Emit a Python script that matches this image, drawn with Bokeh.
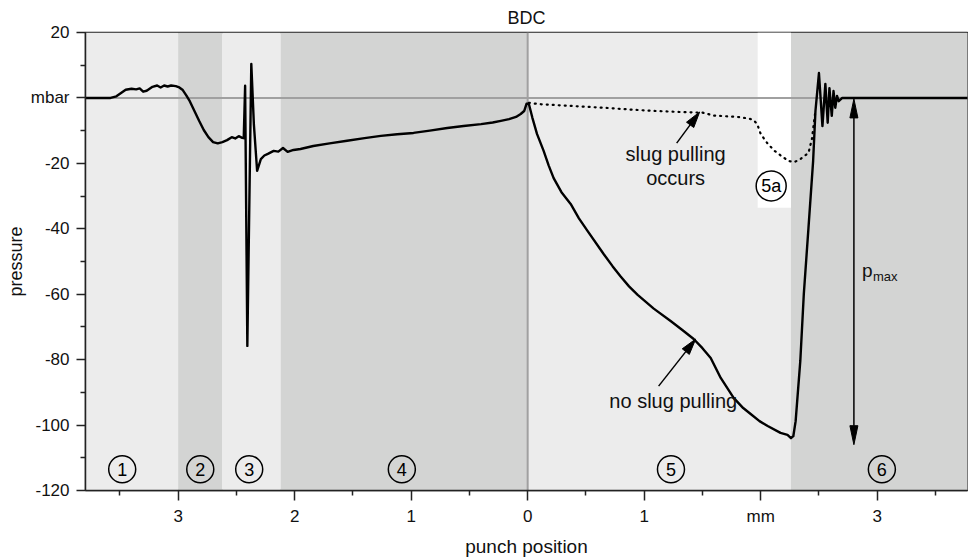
import math
from bokeh.plotting import figure
from bokeh.models import Range1d, FixedTicker
from bokeh.core.properties import value
from bokeh.embed import file_html
from bokeh.resources import INLINE

FONT = "Liberation Sans"

# ---------------- data ----------------
band_left = [-3.8, -3.0, -2.62, -2.12, 0.0, 2.26]
band_right = [-3.0, -2.62, -2.12, 0.0, 2.26, 3.8]
band_color = ["#ececec", "#d3d4d3", "#ececec", "#d3d4d3", "#ececec", "#d3d4d3"]

# white box behind label 5a
box_left, box_right, box_bottom, box_top = 1.974, 2.26, -33.6, 20

# "no slug pulling" curve
solid_x = [-3.80, -3.58, -3.53, -3.49, -3.45, -3.40, -3.36, -3.33, -3.30, -3.27, -3.22,
           -3.18, -3.15, -3.12, -3.09, -3.06, -3.02, -2.99, -2.96, -2.93, -2.90, -2.86,
           -2.82, -2.78, -2.74, -2.70, -2.66, -2.62, -2.58, -2.54, -2.51, -2.48, -2.45,
           -2.437, -2.425, -2.406, -2.372, -2.350, -2.322, -2.29, -2.26, -2.23, -2.18,
           -2.14, -2.10, -2.06, -2.01, -1.95, -1.84, -1.70, -1.55, -1.40, -1.26, -1.12,
           -0.98, -0.84, -0.69, -0.55, -0.40, -0.30, -0.23, -0.16, -0.10, -0.06, -0.03,
           -0.01, 0.01, 0.04, 0.08, 0.137, 0.18, 0.223, 0.29, 0.369, 0.44, 0.515, 0.652,
           0.73, 0.798, 0.87, 0.944, 1.082, 1.227, 1.33, 1.425, 1.50, 1.571, 1.657, 1.768,
           1.85, 1.914, 1.99, 2.06, 2.17, 2.23, 2.26, 2.28, 2.30, 2.34, 2.37, 2.41, 2.45,
           2.47, 2.50, 2.53, 2.555, 2.575, 2.59, 2.61, 2.625, 2.64, 2.655, 2.67, 2.70, 3.80]
solid_y = [0.0, 0.0, 0.5, 1.5, 2.5, 2.8, 2.6, 2.9, 1.9, 2.2, 3.4,
           3.8, 3.2, 3.8, 3.5, 3.8, 3.6, 3.2, 2.4, 0.8, -1.0, -4.0,
           -7.0, -9.8, -12.0, -13.5, -13.9, -13.5, -12.9, -12.0, -12.4, -11.7, -12.2,
           -12.3, 3.7, -75.8, 10.4, -8.0, -22.3, -18.7, -17.6, -17.1, -16.2,
           -16.4, -15.3, -16.5, -15.9, -15.6, -14.7, -13.9, -13.1, -12.3, -11.6, -11.1,
           -10.7, -10.0, -9.2, -8.6, -8.0, -7.5, -7.0, -6.5, -5.8, -4.9, -4.0,
           -1.8, -1.8, -6.0, -11.0, -16.2, -20.6, -24.5, -28.8, -32.4, -36.8, -40.7, -47.7,
           -51.5, -54.6, -57.6, -60.2, -64.4, -68.2, -71.0, -73.7, -76.5, -79.5, -85.6, -91.7,
           -94.8, -96.6, -98.8, -100.3, -102.4, -103.0, -104.0, -103.4, -98.8, -80.4, -60.0, -39.8, -19.3,
           -4.0, 7.6, -8.6, 4.3, -7.6, 3.0, -5.5, 2.1, -3.0, 0.6, -1.0, 0.0, 0.0]

# "slug pulling occurs" curve (dotted)
dot_x = [0.01, 0.1, 0.3, 0.5, 0.7, 0.9, 1.1, 1.3, 1.5, 1.6, 1.8, 1.9, 1.94, 1.97, 2.00,
         2.06, 2.12, 2.18, 2.24, 2.29, 2.34, 2.41, 2.44, 2.455, 2.47]
dot_y = [-1.5, -1.9, -2.3, -2.7, -3.1, -3.6, -4.0, -4.3, -4.5, -5.4, -5.8, -6.3, -6.8, -8.0, -11.0,
         -14.0, -16.2, -17.8, -19.3, -19.6, -18.7, -16.8, -12.5, -8.0, -4.0]

# phase labels
phase_x = [-3.48, -2.81, -2.39, -1.08, 1.23, 3.04]
phase_y = [-113.5] * 6
phase_text = ["1", "2", "3", "4", "5", "6"]
phase5a_x, phase5a_y, phase5a_text = 2.09, -26.9, "5a"

x_ticks = [-3, -2, -1, 0, 1, 2, 3]
x_tick_labels = ["3", "2", "1", "0", "1", "mm", "3"]
x_minor = [-3.5, -2.5, -1.5, -0.5, 0.5, 1.5, 2.5, 3.5]
y_ticks = [20, 0, -20, -40, -60, -80, -100, -120]
y_tick_labels = ["20", "mbar", "-20", "-40", "-60", "-80", "-100", "-120"]
y_minor = [10, -10, -30, -50, -70, -90, -110]

# annotation arrows: (tail_x, tail_y, tip_x, tip_y)
arrow_slug = (1.279, -13.8, 1.476, -4.3)
arrow_noslug = (1.124, -88.1, 1.442, -73.7)
pmax_x, pmax_top, pmax_bottom = 2.80, -0.3, -106.0

# ---------------- figure ----------------
XR = (-3.795, 3.775)
YR = (-120, 20)
FW, FH = 882, 458
SX = FW / (XR[1] - XR[0])
SY = FH / (YR[1] - YR[0])

p = figure(frame_width=FW, frame_height=FH, x_range=Range1d(*XR), y_range=Range1d(*YR),
           output_backend="svg", toolbar_location=None, title="BDC",
           min_border_left=85, min_border_right=1, min_border_top=32, min_border_bottom=68)
p.title.align = "center"
p.title.text_font = FONT
p.title.text_font_size = "18px"
p.title.text_font_style = "normal"
p.title.text_color = "#111111"
p.title.standoff = 9

p.xgrid.visible = False
p.ygrid.visible = False
p.background_fill_color = "white"
p.outline_line_color = "#222222"
p.outline_line_width = 1.5

p.quad(left=band_left, right=band_right, bottom=YR[0], top=YR[1], fill_color=band_color,
       line_color=None)
p.quad(left=[box_left], right=[box_right], bottom=[box_bottom], top=[box_top],
       fill_color="white", line_color=None)

p.line(x=[XR[0], XR[1]], y=[0, 0], line_color="#a0a0a0", line_width=2)
p.line(x=[0, 0], y=[YR[0], YR[1]], line_color="#a0a0a0", line_width=2)

p.line(x=dot_x, y=dot_y, line_color="black", line_width=2.2, line_dash="1 5", line_cap="round")
p.line(x=solid_x, y=solid_y, line_color="black", line_width=2.4, line_join="round")


def head(tail_x, tail_y, tip_x, tip_y, L, W):
    dx = (tip_x - tail_x) * SX
    dy = (tip_y - tail_y) * SY
    n = math.hypot(dx, dy)
    ux, uy = dx / n, dy / n
    px, py = -uy, ux
    bx, by = -ux * L, -uy * L
    pts = [(0, 0), (bx + px * W / 2, by + py * W / 2), (bx - px * W / 2, by - py * W / 2)]
    xs = [tip_x + a / SX for a, b in pts]
    ys = [tip_y + b / SY for a, b in pts]
    return xs, ys


def arrow(tail_x, tail_y, tip_x, tip_y, L=16, W=9):
    hx, hy = head(tail_x, tail_y, tip_x, tip_y, L, W)
    end_x = (hx[1] + hx[2]) / 2
    end_y = (hy[1] + hy[2]) / 2
    p.line(x=[tail_x, end_x], y=[tail_y, end_y], line_color="black", line_width=1.5)
    p.patch(x=hx, y=hy, fill_color="black", line_color="black", line_width=1)


arrow(*arrow_slug)
arrow(*arrow_noslug)
hx1, hy1 = head(pmax_x, pmax_bottom, pmax_x, pmax_top, 19, 8)
hx2, hy2 = head(pmax_x, pmax_top, pmax_x, pmax_bottom, 19, 8)
p.line(x=[pmax_x, pmax_x], y=[hy1[1], hy2[1]], line_color="black", line_width=1.5)
p.patch(x=hx1, y=hy1, fill_color="black", line_color="black", line_width=1)
p.patch(x=hx2, y=hy2, fill_color="black", line_color="black", line_width=1)

# phase circles
p.scatter(x=phase_x, y=phase_y, marker="circle", size=27, fill_color=None,
          line_color="black", line_width=1.5)
p.text(x=phase_x, y=phase_y, text=phase_text, text_align="center", text_baseline="middle",
       text_font=value(FONT), text_font_size="18px", text_color="black")
p.scatter(x=[phase5a_x], y=[phase5a_y], marker="circle", size=30, fill_color="white",
          line_color="black", line_width=1.5)
p.text(x=[phase5a_x], y=[phase5a_y], text=[phase5a_text], text_align="center",
       text_baseline="middle", text_font=value(FONT), text_font_size="18px", text_color="black")

# texts
txt = dict(text_font=value(FONT), text_font_size="20px", text_color="#111111",
           text_align="center", text_baseline="middle")
p.text(x=[1.27], y=[-17.1], text=["slug pulling"], **txt)
p.text(x=[1.27], y=[-24.6], text=["occurs"], **txt)
p.text(x=[1.25], y=[-92.7], text=["no slug pulling"], **txt)
p.text(x=[2.87], y=[-52.9], text=["p"], text_font=value(FONT), text_font_size="19px",
       text_color="#111111", text_align="left", text_baseline="middle")
p.text(x=[2.963], y=[-54.5], text=["max"], text_font=value(FONT), text_font_size="13px",
       text_color="#111111", text_align="left", text_baseline="middle")

# axes
for ax in (p.xaxis[0], p.yaxis[0]):
    ax.axis_line_color = "#222222"
    ax.axis_line_width = 1.5
    ax.major_tick_line_color = "#222222"
    ax.major_tick_line_width = 1.5
    ax.minor_tick_line_color = "#222222"
    ax.minor_tick_line_width = 1.5
    ax.major_tick_in = 0
    ax.minor_tick_in = 0
    ax.major_label_text_font = FONT
    ax.major_label_text_font_size = "17px"
    ax.major_label_text_color = "#111111"
    ax.axis_label_text_font = FONT
    ax.axis_label_text_font_size = "19px"
    ax.axis_label_text_font_style = "normal"
    ax.axis_label_text_color = "#111111"

p.xaxis.ticker = FixedTicker(ticks=x_ticks, minor_ticks=x_minor)
p.xaxis.major_label_overrides = dict(zip(x_ticks, x_tick_labels))
p.xaxis.major_tick_out = 10
p.xaxis.minor_tick_out = 5
p.xaxis.major_label_standoff = 6
p.xaxis.axis_label = "punch position"
p.xaxis.axis_label_standoff = 7

p.yaxis.ticker = FixedTicker(ticks=y_ticks, minor_ticks=y_minor)
p.yaxis.major_label_overrides = dict(zip(y_ticks, y_tick_labels))
p.yaxis.major_tick_out = 9
p.yaxis.minor_tick_out = 5
p.yaxis.major_label_standoff = 7
p.yaxis.axis_label = "pressure"
p.yaxis.axis_label_text_font_size = "18px"
p.yaxis.axis_label_standoff = 2

open("out.html", "w").write(file_html(p, INLINE))
